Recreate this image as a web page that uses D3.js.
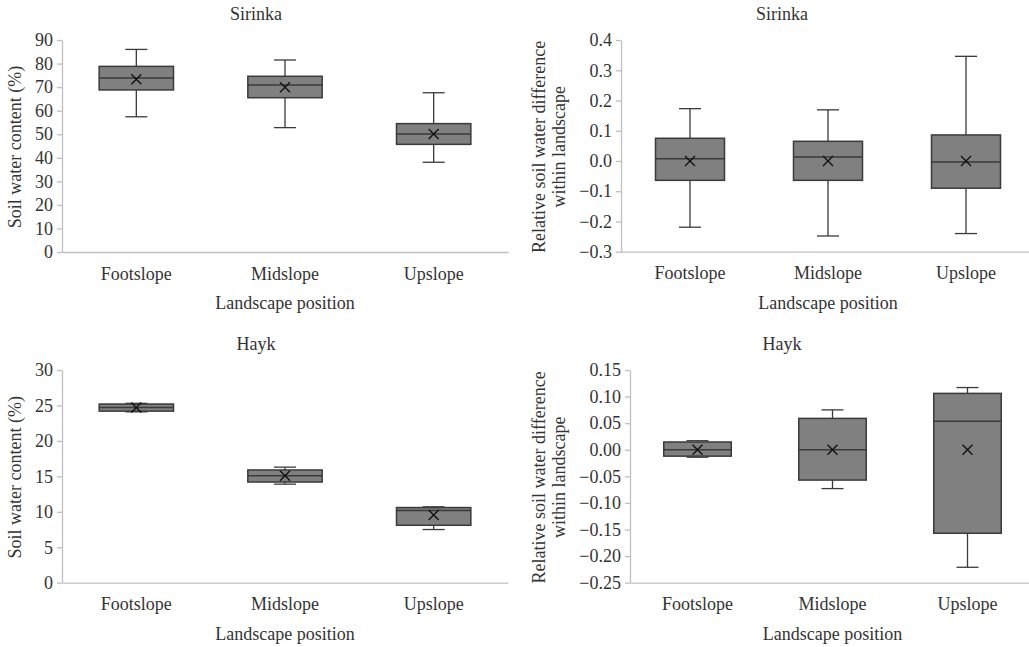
<!DOCTYPE html>
<html>
<head>
<meta charset="utf-8">
<script src="https://cdn.jsdelivr.net/npm/d3@7"></script>
<style>
  body { margin: 0; background: #fff; }
</style>
</head>
<body>
<svg id="chart" width="1029" height="647" style="font-family:'Liberation Serif'"></svg>
<script>
const categories = ['Footslope', 'Midslope', 'Upslope'];

// each row: [whisker min, q1, median, q3, whisker max, mean]
const sirinkaSwc = [
  [57.4, 68.8, 73.9, 78.8, 86.0, 73.3],
  [52.8, 65.5, 70.9, 74.6, 81.5, 69.9],
  [38.1, 45.7, 50.1, 54.5, 67.6, 50.1],
];
const sirinkaRel = [
  [-0.219, -0.064, 0.007, 0.075, 0.173, 0],
  [-0.248, -0.064, 0.013, 0.065, 0.169, 0],
  [-0.240, -0.090, -0.003, 0.086, 0.346, 0],
];
const haykSwc = [
  [24.1, 24.2, 24.7, 25.2, 25.3, 24.7],
  [13.9, 14.2, 15.1, 15.9, 16.3, 15.1],
  [7.5, 8.1, 10.2, 10.6, 10.7, 9.55],
];
const haykRel = [
  [-0.014, -0.012, 0.0, 0.0146, 0.017, 0],
  [-0.073, -0.057, 0.0, 0.059, 0.075, 0],
  [-0.221, -0.157, 0.0535, 0.106, 0.117, 0],
];

const swcTicksSirinka = [0, 10, 20, 30, 40, 50, 60, 70, 80, 90];
const relTicksSirinka = [-0.3, -0.2, -0.1, 0.0, 0.1, 0.2, 0.3, 0.4];
const swcTicksHayk = [0, 5, 10, 15, 20, 25, 30];
const relTicksHayk = [-0.25, -0.2, -0.15, -0.1, -0.05, 0.0, 0.05, 0.1, 0.15];

const svg = d3.select('#chart');
const axisColor = '#bfbfbf';
const textColor = '#333';
const fontFamily = "'Liberation Serif'";
const fontSize = 18;

function minusFmt(f) {
  return d => f(d).replace('-', '\u2013');
}

function styleText(sel) {
  return sel.style('font-family', fontFamily).
    style('font-size', fontSize + 'px').
    attr('fill', textColor);
}

function drawPanel(p) {
  const g = svg.append('g');

  const x = d3.scaleBand().domain(categories).range([p.left, p.right]);
  const y = d3.scaleLinear().domain(p.domain).range([p.bottom, p.top]);

  // title
  g.append('text').
    attr('x', p.titleX).
    attr('y', p.top - 20).
    attr('text-anchor', 'middle').
    call(styleText).
    text(p.title);

  // y axis
  const yAxis = g.append('g').
    attr('transform', `translate(${p.left},0)`).
    call(d3.axisLeft(y).tickValues(p.ticks).tickFormat(p.format).tickSize(5).tickPadding(4).tickSizeOuter(0));
  yAxis.attr('font-family', null).attr('font-size', null);
  yAxis.select('.domain').attr('stroke', axisColor).attr('stroke-width', 1.3);
  yAxis.selectAll('.tick line').attr('stroke', axisColor).attr('stroke-width', 1.3);
  yAxis.selectAll('.tick text').call(styleText);

  // x axis (line only, category labels)
  const xAxis = g.append('g').
    attr('transform', `translate(0,${p.bottom})`).
    call(d3.axisBottom(x).tickSize(0).tickPadding(15).tickSizeOuter(0));
  xAxis.attr('font-family', null).attr('font-size', null);
  xAxis.select('.domain').attr('stroke', axisColor).attr('stroke-width', 1.3);
  xAxis.selectAll('.tick text').call(styleText);

  // x axis title
  g.append('text').
    attr('x', (p.left + p.right) / 2).
    attr('y', p.bottom + 57).
    attr('text-anchor', 'middle').
    call(styleText).
    text('Landscape position');

  // y axis title
  const yt = g.append('text').
    attr('transform', `translate(${p.yTitleX},${(p.top + p.bottom) / 2 + 1}) rotate(-90)`).
    attr('text-anchor', 'middle').
    call(styleText);
  p.yTitle.forEach((line, i) => {
    yt.append('tspan').attr('x', 0).attr('dy', i === 0 ? 0 : 20).text(line);
  });

  const boxW = x.bandwidth() / 2;
  const capW = 22;
  const stroke = '#3a3a3a';

  const boxes = g.selectAll('.box').
    data(p.data.map((d, i) => ({ cat: categories[i], v: d }))).
    enter().
    append('g').
    attr('class', 'box');

  const cx = d => x(d.cat) + x.bandwidth() / 2;

  // whiskers
  boxes.append('line').
    attr('x1', cx).attr('x2', cx).
    attr('y1', d => y(d.v[4])).attr('y2', d => y(d.v[3])).
    attr('stroke', stroke).attr('stroke-width', 1.3);
  boxes.append('line').
    attr('x1', cx).attr('x2', cx).
    attr('y1', d => y(d.v[1])).attr('y2', d => y(d.v[0])).
    attr('stroke', stroke).attr('stroke-width', 1.3);
  boxes.append('line').
    attr('x1', d => cx(d) - capW / 2).attr('x2', d => cx(d) + capW / 2).
    attr('y1', d => y(d.v[4])).attr('y2', d => y(d.v[4])).
    attr('stroke', stroke).attr('stroke-width', 1.3);
  boxes.append('line').
    attr('x1', d => cx(d) - capW / 2).attr('x2', d => cx(d) + capW / 2).
    attr('y1', d => y(d.v[0])).attr('y2', d => y(d.v[0])).
    attr('stroke', stroke).attr('stroke-width', 1.3);

  // box
  boxes.append('rect').
    attr('x', d => cx(d) - boxW / 2).
    attr('width', boxW).
    attr('y', d => y(d.v[3])).
    attr('height', d => y(d.v[1]) - y(d.v[3])).
    attr('fill', '#808080').
    attr('stroke', stroke).
    attr('stroke-width', 1.5);

  // median
  boxes.append('line').
    attr('x1', d => cx(d) - boxW / 2).attr('x2', d => cx(d) + boxW / 2).
    attr('y1', d => y(d.v[2])).attr('y2', d => y(d.v[2])).
    attr('stroke', stroke).attr('stroke-width', 1.5);

  // mean marker
  const m = 5;
  boxes.append('path').
    attr('d', d => {
      const px = cx(d), py = y(d.v[5]);
      return `M${px - m},${py - m}L${px + m},${py + m}M${px - m},${py + m}L${px + m},${py - m}`;
    }).
    attr('stroke', '#111').
    attr('stroke-width', 1.4).
    attr('fill', 'none');
}

drawPanel({
  title: 'Sirinka', titleX: 256,
  left: 62, right: 508, top: 40, bottom: 252,
  domain: [0, 90], ticks: swcTicksSirinka, format: d3.format('d'),
  data: sirinkaSwc, yTitle: ['Soil water content (%)'], yTitleX: 21,
});
drawPanel({
  title: 'Sirinka', titleX: 782,
  left: 621, right: 1035, top: 40, bottom: 251.7,
  domain: [-0.3, 0.4], ticks: relTicksSirinka, format: minusFmt(d3.format('.1f')),
  data: sirinkaRel, yTitle: ['Relative soil water difference', 'within landscape'], yTitleX: 545,
});
drawPanel({
  title: 'Hayk', titleX: 256,
  left: 62, right: 508, top: 370, bottom: 582.7,
  domain: [0, 30], ticks: swcTicksHayk, format: d3.format('d'),
  data: haykSwc, yTitle: ['Soil water content (%)'], yTitleX: 21,
});
drawPanel({
  title: 'Hayk', titleX: 782,
  left: 630, right: 1035, top: 370, bottom: 582.7,
  domain: [-0.25, 0.15], ticks: relTicksHayk, format: minusFmt(d3.format('.2f')),
  data: haykRel, yTitle: ['Relative soil water difference', 'within landscape'], yTitleX: 545,
});
</script>
</body>
</html>
